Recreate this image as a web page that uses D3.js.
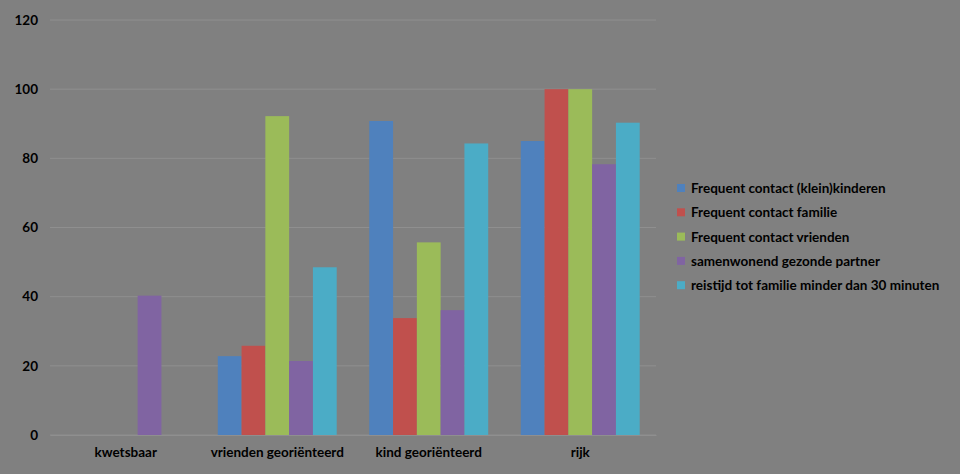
<!DOCTYPE html>
<html>
<head>
<meta charset="utf-8">
<script src="https://cdn.jsdelivr.net/npm/d3@7"></script>
<style>
  html, body { margin: 0; padding: 0; background: #808080; }
  svg { display: block; }
  text { font-family: Lato, "Open Sans", sans-serif; font-weight: bold; fill: #000; }
</style>
</head>
<body>
<svg id="chart" width="960" height="474"></svg>
<script>
const categories = ["kwetsbaar", "vrienden georiënteerd", "kind georiënteerd", "rijk"];
const seriesNames = [
  "Frequent contact (klein)kinderen",
  "Frequent contact familie",
  "Frequent contact vrienden",
  "samenwonend gezonde partner",
  "reistijd tot familie minder dan 30 minuten"
];
const kleinkinderen = [0, 22.8, 90.8, 85];
const familie       = [0, 25.8, 33.8, 100];
const vrienden      = [0, 92.2, 55.7, 100];
const partner       = [40.3, 21.4, 36.1, 78.3];
const reistijd      = [0, 48.5, 84.3, 90.3];
const yTicks = [0, 20, 40, 60, 80, 100, 120];
const colors = ["#4F81BD", "#C0504D", "#9BBB59", "#8064A2", "#4BACC6"];

const seriesValues = [kleinkinderen, familie, vrienden, partner, reistijd];

const svg = d3.select("#chart");
const plot = { left: 50, right: 656, top: 20, bottom: 435 };

const x0 = d3.scaleBand().domain(categories).range([plot.left, plot.right]).paddingInner(0).paddingOuter(0);
const groupPad = 0.215;
const x1 = d3.scaleBand().domain(d3.range(seriesNames.length))
  .range([x0.bandwidth() * groupPad / 2, x0.bandwidth() * (1 - groupPad / 2)]).padding(0);
const y = d3.scaleLinear().domain([0, 120]).range([plot.bottom, plot.top]);

// gridlines
svg.append("g").selectAll("line").data(yTicks).join("line")
  .attr("x1", plot.left).attr("x2", plot.right)
  .attr("y1", d => y(d)).attr("y2", d => y(d))
  .attr("stroke", "#8f8f8f").attr("stroke-width", 1);

// bars
const groups = svg.append("g").selectAll("g").data(categories).join("g")
  .attr("transform", c => `translate(${x0(c)},0)`);
groups.selectAll("rect")
  .data((c, ci) => seriesValues.map((vals, si) => ({ si, v: vals[ci] })))
  .join("rect")
  .attr("x", d => x1(d.si))
  .attr("width", x1.bandwidth())
  .attr("y", d => y(d.v))
  .attr("height", d => y(0) - y(d.v))
  .attr("fill", d => colors[d.si]);

// y axis labels
const yAxis = d3.axisLeft(y).tickValues(yTicks).tickSize(0).tickPadding(12);
const ya = svg.append("g").attr("transform", `translate(${plot.left},0)`).call(yAxis);
ya.select(".domain").remove();
ya.selectAll("text").attr("font-size", 13.5).attr("font-family", "Lato, sans-serif").attr("font-weight", "bold").attr("fill", "#000");

// x axis labels
const xAxis = d3.axisBottom(x0).tickSize(0).tickPadding(12);
const xa = svg.append("g").attr("transform", `translate(0,${plot.bottom})`).call(xAxis);
xa.select(".domain").attr("stroke", "#8f8f8f");
xa.selectAll("text").attr("font-size", 13.5).attr("font-family", "Lato, sans-serif").attr("font-weight", "bold").attr("fill", "#000");

// legend
const legend = svg.append("g").attr("transform", "translate(677,188)");
const items = legend.selectAll("g").data(seriesNames).join("g")
  .attr("transform", (d, i) => `translate(0,${i * 24.3})`);
items.append("rect").attr("x", 0).attr("y", -4).attr("width", 8).attr("height", 8)
  .attr("fill", (d, i) => colors[i]);
items.append("text").attr("x", 14).attr("y", 5).attr("font-size", 13.5).text(d => d);
</script>
</body>
</html>
